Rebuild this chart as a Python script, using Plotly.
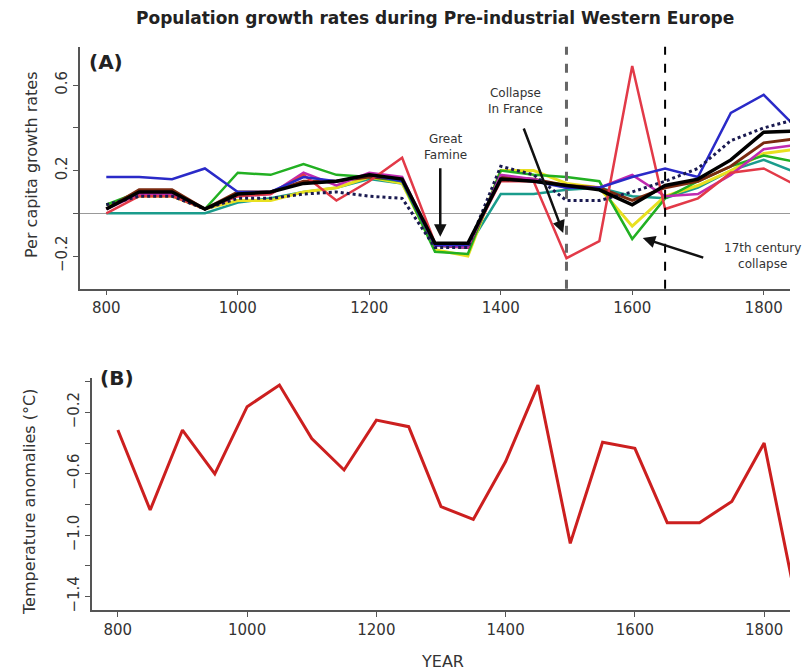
import plotly.graph_objects as go

W, H = 805, 670

years = [800, 850, 900, 950, 1000, 1050, 1100, 1150, 1200, 1250, 1300,
         1350, 1400, 1450, 1500, 1550, 1600, 1650, 1700, 1750, 1800, 1850]

# Panel A: per capita growth rates (several regional series)
teal    = [0.00, 0.00, 0.00, 0.00, 0.05, 0.07, 0.10, 0.12, 0.16, 0.14, -0.15,
           -0.16, 0.09, 0.09, 0.11, 0.12, 0.08, 0.07, 0.12, 0.20, 0.25, 0.19]
yellow  = [0.04, 0.08, 0.08, 0.02, 0.06, 0.06, 0.10, 0.12, 0.17, 0.14, -0.17,
           -0.20, 0.20, 0.20, 0.14, 0.12, -0.06, 0.08, 0.13, 0.20, 0.28, 0.30]
green   = [0.04, 0.10, 0.10, 0.02, 0.19, 0.18, 0.23, 0.18, 0.17, 0.15, -0.18,
           -0.19, 0.20, 0.18, 0.17, 0.15, -0.12, 0.07, 0.15, 0.22, 0.27, 0.24]
brown   = [0.02, 0.11, 0.11, 0.02, 0.10, 0.10, 0.15, 0.15, 0.17, 0.16, -0.15,
           -0.16, 0.17, 0.16, 0.13, 0.12, 0.06, 0.12, 0.15, 0.22, 0.33, 0.35]
magenta = [0.02, 0.09, 0.09, 0.02, 0.08, 0.09, 0.19, 0.13, 0.19, 0.17, -0.15,
           -0.16, 0.18, 0.16, 0.12, 0.12, 0.18, 0.08, 0.09, 0.18, 0.30, 0.32]
red     = [0.00, 0.08, 0.08, 0.02, 0.08, 0.09, 0.18, 0.06, 0.15, 0.26, -0.14,
           -0.15, 0.15, 0.15, -0.21, -0.13, 0.69, 0.02, 0.07, 0.19, 0.21, 0.13]
blue    = [0.17, 0.17, 0.16, 0.21, 0.10, 0.10, 0.17, 0.15, 0.18, 0.15, -0.15,
           -0.15, 0.16, 0.15, 0.12, 0.12, 0.17, 0.21, 0.17, 0.47, 0.555, 0.40]
dotted  = [0.04, 0.08, 0.08, 0.02, 0.07, 0.07, 0.09, 0.10, 0.08, 0.07, -0.16,
           -0.16, 0.22, 0.18, 0.06, 0.06, 0.10, 0.15, 0.21, 0.34, 0.40, 0.44]
mean    = [0.02, 0.10, 0.10, 0.02, 0.09, 0.10, 0.14, 0.15, 0.18, 0.16, -0.14,
           -0.14, 0.16, 0.15, 0.13, 0.11, 0.04, 0.13, 0.16, 0.25, 0.38, 0.385]

# Panel B: temperature anomalies
temp = [-0.315, -0.836, -0.315, -0.60, -0.163, -0.022, -0.37, -0.575, -0.25,
        -0.293, -0.814, -0.897, -0.52, -0.022, -1.053, -0.395, -0.434, -0.918,
        -0.918, -0.78, -0.40, -1.44]

event_years = [1500, 1650]

xticks = [800, 1000, 1200, 1400, 1600, 1800]
a_yticks = [-0.2, 0.0, 0.2, 0.4, 0.6]
a_ytext = ["\u22120.2", "", "0.2", "", "0.6"]
b_yticks = [-1.4, -1.2, -1.0, -0.8, -0.6, -0.4, -0.2, 0.0]
b_ytext = ["\u22121.4", "", "\u22121.0", "", "\u22120.6", "", "\u22120.2", ""]

FONT = "DejaVu Sans"


def px(x):
    return x / W


def py(y):
    return 1 - y / H


fig = go.Figure()

series = [
    (teal, "#1a9c8c", 2.5, "solid"),
    (yellow, "#e8e020", 3, "solid"),
    (green, "#22b022", 2.5, "solid"),
    (brown, "#7a2a10", 3, "solid"),
    (magenta, "#c02ab0", 2.5, "solid"),
    (red, "#e23a48", 2.5, "solid"),
    (blue, "#2a2ac8", 2.5, "solid"),
    (dotted, "#1a1a50", 3, "dot"),
    (mean, "#000000", 3.5, "solid"),
]
for vals, col, w, dash in series:
    fig.add_trace(go.Scatter(x=years, y=vals, mode="lines",
                             line=dict(color=col, width=w, dash=dash),
                             xaxis="x", yaxis="y", showlegend=False))

fig.add_trace(go.Scatter(x=years, y=temp, mode="lines",
                         line=dict(color="#cc1f1f", width=3),
                         xaxis="x2", yaxis="y2", showlegend=False))

axis_common = dict(showline=True, linecolor="#555", linewidth=1.5,
                   ticks="outside", ticklen=5, tickcolor="#555", tickwidth=1.2,
                   showgrid=False, automargin=False,
                   tickfont=dict(family=FONT, size=15, color="#333"))

fig.update_layout(
    width=W, height=H,
    margin=dict(l=0, r=0, t=0, b=0),
    paper_bgcolor="white", plot_bgcolor="white",
    xaxis=dict(domain=[px(80), px(790)], range=[760, 1840], anchor="y",
               tickvals=xticks, zeroline=False, **axis_common),
    yaxis=dict(domain=[py(288.7), py(46.7)], range=[-0.353, 0.78], anchor="x",
               tickvals=a_yticks, ticktext=a_ytext, tickangle=-90,
               zeroline=True, zerolinecolor="#999", zerolinewidth=1,
               **axis_common),
    xaxis2=dict(domain=[px(92), px(790)], range=[760, 1840], anchor="y2",
                tickvals=xticks, zeroline=False, **axis_common),
    yaxis2=dict(domain=[py(610), py(378)], range=[-1.487, 0.024], anchor="x2",
                tickvals=b_yticks, ticktext=b_ytext, tickangle=-90,
                zeroline=False, **axis_common),
)

# vertical event lines
fig.add_shape(type="line", xref="x", yref="y domain", x0=event_years[0],
              x1=event_years[0], y0=0, y1=1,
              line=dict(color="#666", width=3, dash="dash"))
fig.add_shape(type="line", xref="x", yref="y domain", x0=event_years[1],
              x1=event_years[1], y0=0, y1=1,
              line=dict(color="#000", width=2, dash="dash"))


def label(text, x, y, size, angle=0, color="#333"):
    return dict(text=text, x=px(x), y=py(y), xref="paper", yref="paper",
                xanchor="center", yanchor="middle", textangle=angle,
                showarrow=False, font=dict(family=FONT, size=size, color=color))


ann = [
    label("<b>Population growth rates during Pre-industrial Western Europe</b>",
          435, 18, 17, color="#222"),
    label("<b>(A)</b>", 106, 62, 20, color="#222"),
    label("<b>(B)</b>", 117, 378, 20, color="#222"),
    label("Per capita growth rates", 32, 165, 16, angle=-90),
    label("Temperature anomalies (\u00b0C)", 29, 502, 16, angle=-90),
    label("YEAR", 442, 661, 16),
    label("Great<br>Famine", 445, 147, 12),
    label("Collapse<br>In France", 515, 101, 12),
    label("17th century<br>collapse", 762, 256, 12),
]

# arrows
for hx, hy, tx, ty in [(1308, -0.11, 0, -70), (1495, -0.092, -40, -106),
                       (1616, -0.116, 62, 20)]:
    ann.append(dict(x=hx, y=hy, xref="x", yref="y", ax=tx, ay=ty, text="",
                    showarrow=True, arrowhead=2, arrowsize=1, arrowwidth=2.5,
                    arrowcolor="#111"))
fig.update_layout(annotations=ann)

fig.write_html("out.html")
